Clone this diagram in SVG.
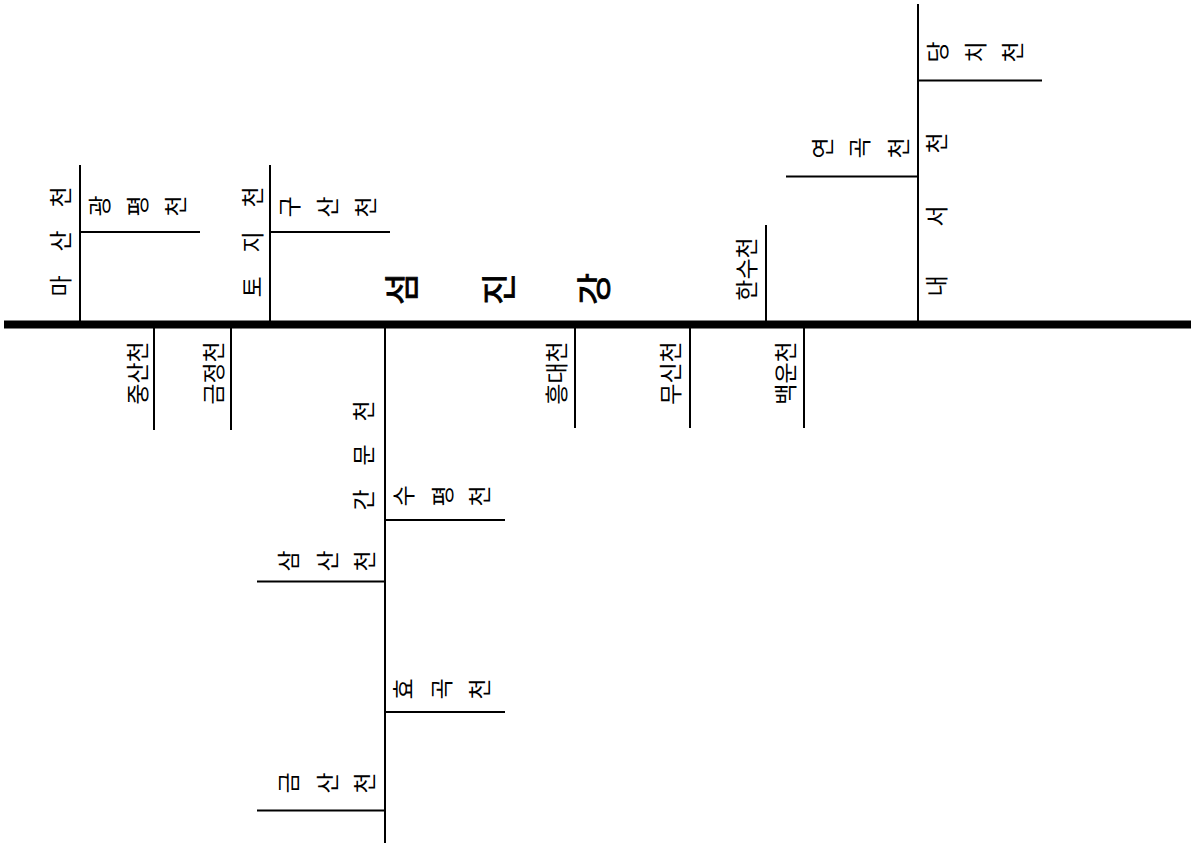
<svg xmlns="http://www.w3.org/2000/svg" width="1192" height="843" viewBox="0 0 1192 843">
<style>
.ln{stroke:#000;stroke-width:2;fill:none}
.main{stroke:#000;stroke-width:8;fill:none}
text{font-family:"Noto Sans CJK KR","Noto Sans",sans-serif;font-size:23px;fill:#000;text-anchor:middle;dominant-baseline:central}
.big{font-size:35px;stroke:#000;stroke-width:0.8}
</style>
<rect width="1192" height="843" fill="#fff"/>
<g id="connectors">
<line class="main" x1="4" y1="324.5" x2="1191" y2="324.5"/>
<line class="ln" x1="80" y1="165" x2="80" y2="321"/>
<line class="ln" x1="80" y1="232" x2="200" y2="232"/>
<line class="ln" x1="270" y1="165" x2="270" y2="321"/>
<line class="ln" x1="270" y1="232" x2="390" y2="232"/>
<line class="ln" x1="766" y1="225" x2="766" y2="321"/>
<line class="ln" x1="918" y1="4" x2="918" y2="321"/>
<line class="ln" x1="918" y1="80.5" x2="1042" y2="80.5"/>
<line class="ln" x1="786" y1="176.5" x2="918" y2="176.5"/>
<line class="ln" x1="154" y1="328" x2="154" y2="430"/>
<line class="ln" x1="231" y1="328" x2="231" y2="430"/>
<line class="ln" x1="575" y1="328" x2="575" y2="428"/>
<line class="ln" x1="690" y1="328" x2="690" y2="428"/>
<line class="ln" x1="804" y1="328" x2="804" y2="428"/>
<line class="ln" x1="385" y1="328" x2="385" y2="843"/>
<line class="ln" x1="385" y1="520" x2="505" y2="520"/>
<line class="ln" x1="257" y1="581.5" x2="385" y2="581.5"/>
<line class="ln" x1="385" y1="712" x2="505" y2="712"/>
<line class="ln" x1="257" y1="810.5" x2="385" y2="810.5"/>
</g>
<g id="seomjingang"><text class="big" transform="rotate(-90)" x="-289 -289 -289" y="399 496 591">섬진강</text></g>
<g id="masancheon"><text transform="rotate(-90)" x="-286 -241 -197" y="59 59 59">마산천</text></g>
<g id="gwangpyeongcheon"><text transform="rotate(-90)" x="-206 -206 -206" y="98 136 174">광평천</text></g>
<g id="tojicheon"><text transform="rotate(-90)" x="-287 -242 -197" y="251 251 251">토지천</text></g>
<g id="gusancheon"><text transform="rotate(-90)" x="-207 -207 -207" y="288 326 364">구산천</text></g>
<g id="hansucheon"><text transform="rotate(-90)" x="-269" y="745">한수천</text></g>
<g id="naeseocheon"><text transform="rotate(-90)" x="-286 -216 -143" y="935 935 935">내서천</text></g>
<g id="yeongokcheon"><text transform="rotate(-90)" x="-148 -148 -148" y="821 858 897">연곡천</text></g>
<g id="dangchicheon"><text transform="rotate(-90)" x="-52 -52 -52" y="936 974 1011">당치천</text></g>
<g id="jungsancheon"><text transform="rotate(-90)" x="-373" y="136">중산천</text></g>
<g id="geumjeongcheon"><text transform="rotate(-90)" x="-373" y="212">금정천</text></g>
<g id="heungdaecheon"><text transform="rotate(-90)" x="-373" y="555">흥대천</text></g>
<g id="musincheon"><text transform="rotate(-90)" x="-373" y="669">무신천</text></g>
<g id="baegeuncheon"><text transform="rotate(-90)" x="-373" y="784">백운천</text></g>
<g id="ganmuncheon"><text transform="rotate(-90)" x="-500 -455 -411" y="362 362 362">간문천</text></g>
<g id="supyeongcheon"><text transform="rotate(-90)" x="-496 -496 -496" y="402 441 478">수평천</text></g>
<g id="samsancheon"><text transform="rotate(-90)" x="-561 -561 -561" y="287 326 363">삼산천</text></g>
<g id="hyogokcheon"><text transform="rotate(-90)" x="-689 -689 -689" y="402 440 478">효곡천</text></g>
<g id="geumsancheon"><text transform="rotate(-90)" x="-783 -783 -783" y="287 326 363">금산천</text></g>
</svg>
